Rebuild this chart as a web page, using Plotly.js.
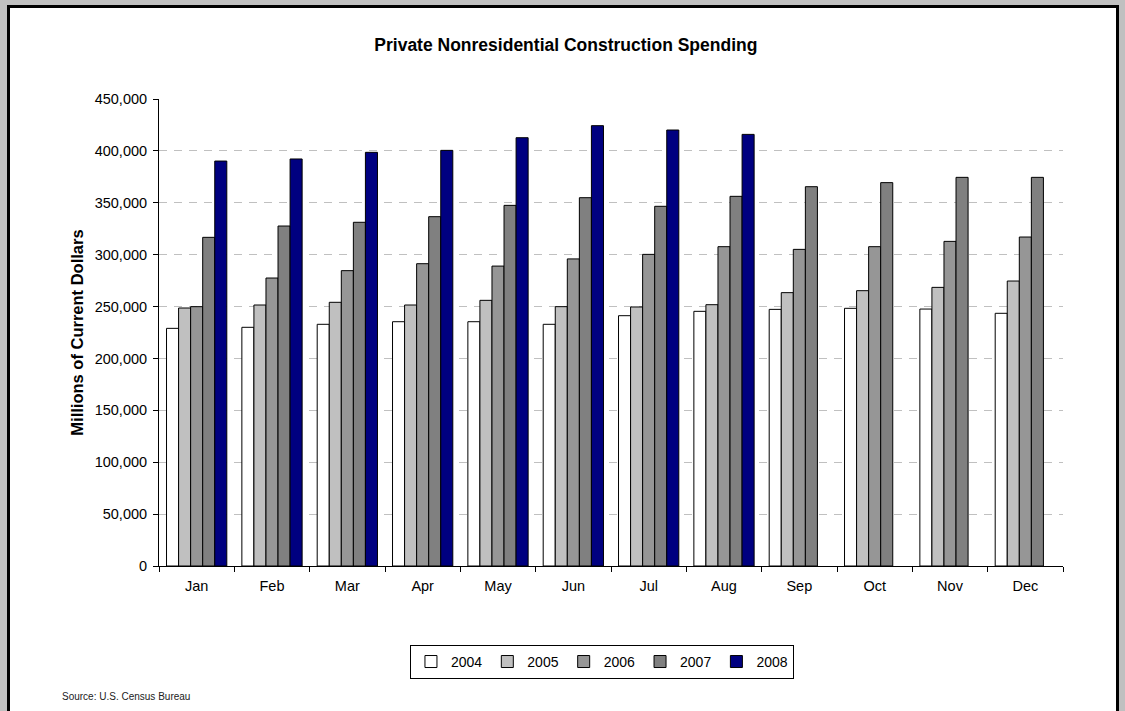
<!DOCTYPE html>
<html>
<head>
<meta charset="utf-8">
<script src="https://cdn.plot.ly/plotly-3.0.1.min.js"></script>
<style>
  html, body { margin: 0; padding: 0; background: #c0c0c0; }
  #wrap { position: relative; width: 1125px; height: 711px; background: #c0c0c0; overflow: hidden; }
  #frame { position: absolute; left: 7px; top: 5px; width: 1106px; height: 720px; background: #ffffff; border: 3px solid #000000; }
  #chart { position: absolute; left: 0; top: 0; width: 1125px; height: 711px; }
</style>
</head>
<body>
<div id="wrap">
  <div id="frame"></div>
  <div id="chart"></div>
</div>
<script>
const months = ["Jan","Feb","Mar","Apr","May","Jun","Jul","Aug","Sep","Oct","Nov","Dec"];
const years = ["2004","2005","2006","2007","2008"];
const y2004 = [229000, 230000, 232900, 235400, 235400, 232900, 241200, 245400, 247300, 248300, 247600, 243500];
const y2005 = [248600, 251500, 254100, 251500, 256000, 249900, 249600, 251800, 263400, 265300, 268500, 274600];
const y2006 = [249900, 277500, 284600, 291300, 289000, 295900, 300300, 307700, 305100, 307700, 312800, 317000];
const y2007 = [316700, 327600, 331200, 336600, 347500, 354900, 346600, 356200, 365500, 369400, 374500, 374500];
const y2008 = [390200, 392200, 398600, 400500, 412700, 424300, 420100, 415900];
const series = [y2004, y2005, y2006, y2007, y2008];
const colors = ["#ffffff", "#c0c0c0", "#969696", "#808080", "#000080"];

const traces = series.map((vals, i) => ({
  type: "bar",
  name: years[i],
  x: months.slice(0, vals.length),
  y: vals,
  marker: { color: colors[i], line: { color: "#000000", width: 1 } },
  hoverinfo: "x+y+name"
}));

const layout = {
  width: 1125,
  height: 711,
  paper_bgcolor: "rgba(0,0,0,0)",
  plot_bgcolor: "rgba(0,0,0,0)",
  margin: { l: 159, r: 62, t: 99, b: 145 },
  font: { family: "Liberation Sans, Arial, sans-serif", color: "#000000", size: 14 },
  title: {
    text: "<b>Private Nonresidential Construction Spending</b>",
    font: { size: 17.5, family: "Liberation Sans, Arial, sans-serif", color: "#000000" },
    x: 0.503, xanchor: "center", xref: "container",
    y: 1 - 45 / 711, yanchor: "middle", yref: "container"
  },
  barmode: "group",
  bargap: 0.2,
  bargroupgap: 0,
  xaxis: {
    type: "category",
    categoryorder: "array",
    categoryarray: months,
    showline: true, linecolor: "#000000", linewidth: 1,
    ticks: "outside", ticklen: 5, tickcolor: "#000000", tickwidth: 1,
    tickson: "boundaries",
    ticklabelstandoff: 7,
    showgrid: false,
    tickfont: { size: 14.5 },
    zeroline: false
  },
  yaxis: {
    range: [0, 450000],
    dtick: 50000,
    tick0: 0,
    tickformat: ",d",
    showline: true, linecolor: "#000000", linewidth: 1,
    ticks: "outside", ticklen: 5, tickcolor: "#000000", tickwidth: 1,
    ticklabelstandoff: 3,
    showgrid: true, gridcolor: "#c0c0c0", gridwidth: 1, griddash: "8px,7px",
    zeroline: false,
    tickfont: { size: 14.5 },
    title: { text: "<b>Millions of Current Dollars</b>", font: { size: 16.5 }, standoff: 6 }
  },
  legend: {
    orientation: "h",
    x: 0.49, xanchor: "center",
    y: -0.169, yanchor: "top",
    bordercolor: "#000000", borderwidth: 1,
    bgcolor: "#ffffff",
    font: { size: 14 },
    itemwidth: 30,
    traceorder: "normal"
  },
  annotations: [{
    text: "Source: U.S. Census Bureau",
    xref: "paper", yref: "paper",
    x: -0.1095, y: -0.2805,
    xanchor: "left", yanchor: "middle",
    showarrow: false,
    font: { size: 10, color: "#222222" }
  }],
  showlegend: true
};

Plotly.newPlot("chart", traces, layout, { displayModeBar: false, staticPlot: true });
</script>
</body>
</html>
